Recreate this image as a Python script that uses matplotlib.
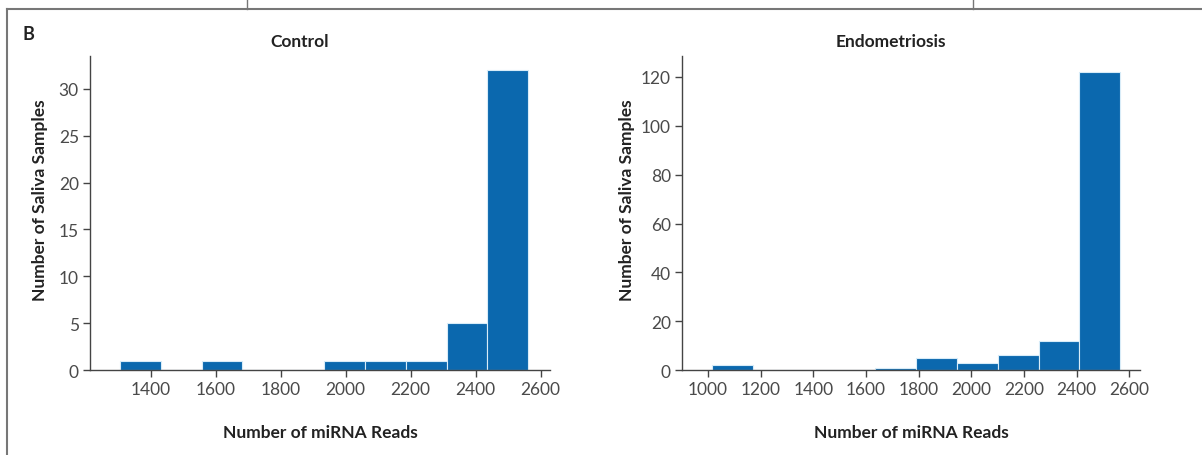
import matplotlib.pyplot as plt
from matplotlib.lines import Line2D

# histogram bin edges
control_edges = [1305, 1431, 1557, 1682, 1808, 1934, 2059, 2185, 2311, 2436, 2562]
control_counts = [1, 0, 1, 0, 0, 1, 1, 1, 5, 32]

endo_edges = [1015, 1170, 1325, 1480, 1635, 1790, 1945, 2100, 2255, 2410, 2565]
endo_counts = [2, 0, 0, 0, 1, 5, 3, 6, 12, 122]

control_xticks = [1400, 1600, 1800, 2000, 2200, 2400, 2600]
control_yticks = [0, 5, 10, 15, 20, 25, 30]
endo_xticks = [1000, 1200, 1400, 1600, 1800, 2000, 2200, 2400, 2600]
endo_yticks = [0, 20, 40, 60, 80, 100, 120]

bar_color = '#0b68ae'
plt.rcParams['font.family'] = ['Lato', 'DejaVu Sans']


def draw_panel(ax, edges, counts, xticks, yticks, xlim, ylim, title, ylab_x):
    widths = [edges[i + 1] - edges[i] for i in range(len(counts))]
    ax.bar(edges[:-1], counts, width=widths, align='edge', color=bar_color,
           edgecolor='#d8ecf8', linewidth=0.8)
    ax.set_xlim(*xlim)
    ax.set_ylim(*ylim)
    ax.set_xticks(xticks)
    ax.set_yticks(yticks)
    ax.spines['top'].set_visible(False)
    ax.spines['right'].set_visible(False)
    for s in ['left', 'bottom']:
        ax.spines[s].set_color('#444444')
        ax.spines[s].set_linewidth(1.0)
    ax.tick_params(direction='out', length=5, width=1.0, color='#444444',
                   labelsize=12.5, labelcolor='#4a4a4a', pad=3)
    ax.set_xlabel('Number of miRNA Reads', fontsize=12.5, fontweight='bold',
                  color='#222222', labelpad=19)
    ax.set_ylabel('Number of Saliva Samples', fontsize=12.5, fontweight='bold',
                  color='#222222')
    ax.yaxis.set_label_coords(ylab_x, 0.545)
    ax.text(0.456, 1.022, title, transform=ax.transAxes, ha='center',
            va='bottom', fontsize=12.5, fontweight='bold', color='#222222')


fig = plt.figure(figsize=(12.02, 4.56), dpi=100)
ax1 = fig.add_axes([0.0749, 0.1864, 0.3827, 0.6886])
ax2 = fig.add_axes([0.5674, 0.1864, 0.3810, 0.6886])

draw_panel(ax1, control_edges, control_counts, control_xticks, control_yticks,
           (1213, 2629), (0, 33.5), 'Control', -0.091)
draw_panel(ax2, endo_edges, endo_counts, endo_xticks, endo_yticks,
           (902, 2640), (0, 128.6), 'Endometriosis', -0.103)

# panel frame
W, H = 1202, 456
frame = '#777777'
fig.add_artist(Line2D([7 / W, 1], [1 - 10 / H, 1 - 10 / H], color=frame, lw=1.5))
fig.add_artist(Line2D([7 / W, 7 / W], [0, 1 - 10 / H], color=frame, lw=1.5))
fig.add_artist(Line2D([247 / W, 247 / W], [1, 1 - 10 / H], color=frame, lw=1.0))
fig.add_artist(Line2D([973 / W, 973 / W], [1, 1 - 10 / H], color=frame, lw=1.0))
fig.text(22 / W, 1 - 34 / H, 'B', fontsize=13, fontweight='bold',
         color='#222222', va='center', ha='left')

fig.savefig('out.png', dpi=100, facecolor='white')
